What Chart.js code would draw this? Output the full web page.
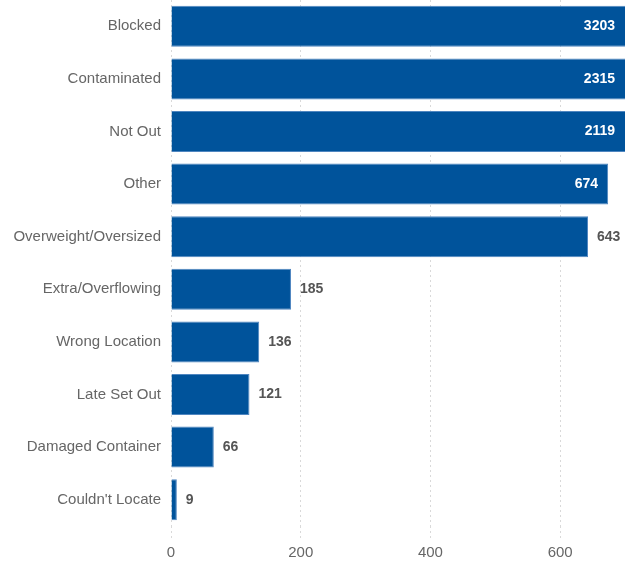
<!DOCTYPE html>
<html>
<head>
<meta charset="utf-8">
<script src="https://cdn.jsdelivr.net/npm/chart.js@4.4.0/dist/chart.umd.min.js"></script>
<style>
html,body{margin:0;padding:0;background:#fff;}
#wrap{width:626px;height:562px;position:relative;}
</style>
</head>
<body>
<div id="wrap"><canvas id="c" width="626" height="562"></canvas></div>
<script>
const categories = ["Blocked","Contaminated","Not Out","Other","Overweight/Oversized","Extra/Overflowing","Wrong Location","Late Set Out","Damaged Container","Couldn't Locate"];
const counts = [3203,2315,2119,674,643,185,136,121,66,9];
const xTicks = [0,200,400,600];
const xMax = 700;

const labelPlugin = {
  id: 'valueLabels',
  afterDatasetsDraw(chart) {
    const ctx = chart.ctx;
    const meta = chart.getDatasetMeta(0);
    const area = chart.chartArea;
    ctx.save();
    ctx.font = 'bold 14px "Liberation Sans", Arial, sans-serif';
    ctx.textBaseline = 'middle';
    meta.data.forEach((bar, i) => {
      const v = counts[i];
      const txt = String(v);
      const w = ctx.measureText(txt).width;
      const endX = Math.min(bar.x, area.right);
      if (endX + 9 + w > area.right) {
        ctx.fillStyle = '#ffffff';
        ctx.textAlign = 'right';
        ctx.fillText(txt, endX - 10, bar.y);
      } else {
        ctx.fillStyle = '#555555';
        ctx.textAlign = 'left';
        ctx.fillText(txt, endX + 9, bar.y);
      }
    });
    ctx.restore();
  }
};

new Chart(document.getElementById('c'), {
  type: 'bar',
  data: {
    labels: categories,
    datasets: [{
      data: counts,
      backgroundColor: '#00539b',
      borderColor: '#4f86c0',
      borderWidth: 1,
      barPercentage: 0.78,
      categoryPercentage: 1.0
    }]
  },
  options: {
    indexAxis: 'y',
    responsive: false,
    animation: false,
    layout: { padding: { top: 0, right: 1, bottom: 0, left: 0 } },
    plugins: { legend: { display: false }, tooltip: { enabled: false } },
    scales: {
      x: {
        min: 0,
        max: xMax,
        afterBuildTicks(scale) { scale.ticks = xTicks.map(v => ({ value: v })); },
        afterFit(scale) { scale.height = 36; },
        grid: { color: '#d9d9d9', tickLength: 14, drawTicks: true, tickBorderDash: [2, 3] },
        border: { display: false, dash: [2, 3] },
        ticks: { color: '#666666', font: { size: 15, family: '"Liberation Sans", Arial, sans-serif' }, padding: 4 }
      },
      y: {
        grid: { display: false, drawTicks: false },
        border: { display: false },
        afterFit(scale) { scale.width = 171; scale.paddingTop = 0; scale.paddingBottom = 0; },
        ticks: { color: '#666666', font: { size: 15, family: '"Liberation Sans", Arial, sans-serif' }, padding: 10 }
      }
    }
  },
  plugins: [labelPlugin]
});
</script>
</body>
</html>
